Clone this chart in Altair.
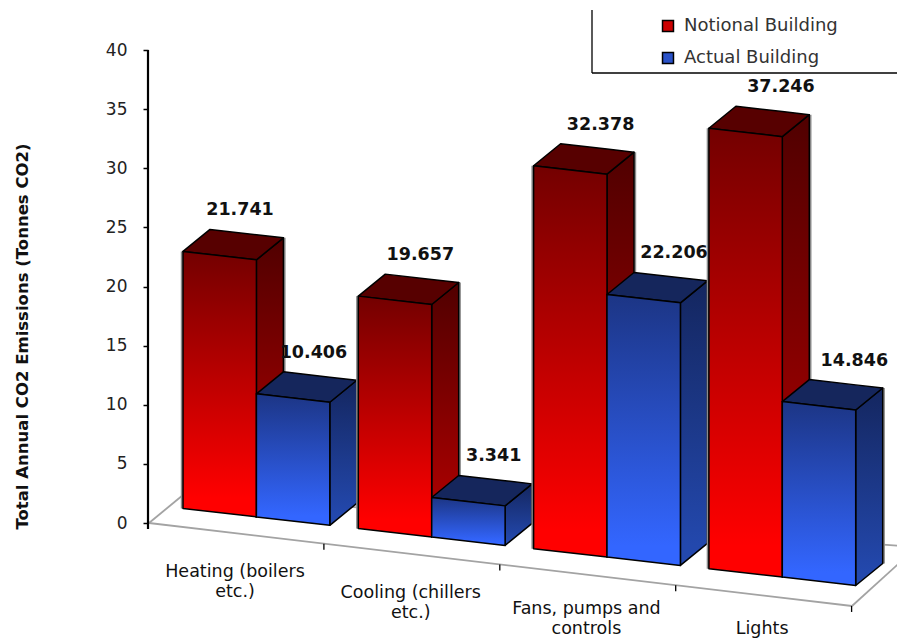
import altair as alt
import pandas as pd

CATEGORY_LABELS = ["Heating (boilers\netc.)", "Cooling (chillers\netc.)", "Fans, pumps and\ncontrols", "Lights"]
NOTIONAL = [21.741, 19.657, 32.378, 37.246]
ACTUAL = [10.406, 3.341, 22.206, 14.846]
SERIES = ["Notional Building", "Actual Building"]
Y_TICKS = [0, 5, 10, 15, 20, 25, 30, 35, 40]
Y_TITLE = "Total Annual CO2 Emissions (Tonnes CO2)"

FONT = "DejaVu Sans"
W, H = 889, 630
PX_PER_UNIT = 11.825
ZERO_PX = 523.0


def val(py):
    """Page pixel row expressed in value-axis units."""
    return (ZERO_PX - py) / PX_PER_UNIT


# oblique projection of the 3D bars
BAR_W = 73.4
STEP = 175.3
LEFT0 = 183.0
BASE0 = 508.5
SLOPE = 0.1145
DX, DY = 27.0, 22.0


def base(x):
    return BASE0 + SLOPE * (x - LEFT0)


def faces(left, value):
    r = left + BAR_W
    off = val(base(left))
    off_r = val(base(r))
    d = DY / PX_PER_UNIT
    s = SLOPE / PX_PER_UNIT * DX
    front = [dict(x=left, y=value + off, y2=off), dict(x=r, y=value + off_r, y2=off_r)]
    side = [dict(x=r, y=value + off_r, y2=off_r), dict(x=r + DX, y=value + off_r + d, y2=off_r + d)]
    top = [
        dict(x=left, y=value + off, y2=value + off),
        dict(x=left + DX, y=value + off + d, y2=value + off - s),
        dict(x=r, y=value + off_r + d + s, y2=value + off_r),
        dict(x=r + DX, y=value + off_r + d, y2=value + off_r + d),
    ]
    return front, side, top


X = alt.X("x:Q", axis=None, scale=alt.Scale(domain=[8, 8 + W], nice=False, zero=False))
Y = alt.Y(
    "y:Q",
    scale=alt.Scale(domain=[val(8 + H), val(8)], nice=False, zero=False),
    axis=alt.Axis(
        values=Y_TICKS, offset=-140, domain=False, grid=False, tickColor="black", tickSize=5, tickWidth=1.5,
        labelFont=FONT, labelFontSize=17, labelColor="#222", labelPadding=16, format="d",
        title=Y_TITLE, titleFont=FONT, titleFontSize=16.5, titleFontWeight="bold", titleColor="#111",
        titleX=-126, titleY=328, titleAngle=270, titleBaseline="middle", titleAlign="center",
    ),
)


def grad(a, b):
    return alt.Gradient(gradient="linear", x1=0, y1=0, x2=0, y2=1,
                        stops=[alt.GradientStop(offset=0, color=a), alt.GradientStop(offset=0.93, color=b),
                               alt.GradientStop(offset=1, color=b)])


STYLES = [
    dict(front=grad("#730000", "#ff0000"), side=grad("#500000", "#b00000"), top="#570000"),
    dict(front=grad("#1c3585", "#3366ff"), side=grad("#14265f", "#2348ad"), top="#15265c"),
]


def area(rows, fill):
    return alt.Chart(pd.DataFrame(rows)).mark_area(
        fill=fill, stroke="black", strokeWidth=1.5, strokeJoin="round", interpolate="linear"
    ).encode(x=X, y=Y, y2="y2:Q")


def seg(x1, py1, x2, py2, color="#a3a3a3", width=1.8):
    return alt.Chart(pd.DataFrame([dict(x=x1, y=val(py1)), dict(x=x2, y=val(py2))])).mark_line(
        color=color, strokeWidth=width, clip=True).encode(x=X, y=Y)


def vrule(x, py1, py2, width=1.3):
    return alt.Chart(pd.DataFrame([dict(x=x, y=val(py1), y2=val(py2))])).mark_rule(
        color="black", strokeWidth=width).encode(x=X, y=Y, y2="y2:Q")


def shadow(x, v_top, v_bottom):
    rows = [dict(x=x, y=v_top), dict(x=x, y=v_bottom)]
    return alt.Chart(pd.DataFrame(rows)).mark_line(color="#8c8c8c", strokeWidth=2, clip=True).encode(x=X, y=Y)


layers = []

# floor outline
FL = (149, 523)
FR = (852, 606)
BL = (183, 495)
BR = (917, 547)
layers += [seg(*FL, *FR), seg(*FL, *BL), seg(*FR, *BR), seg(*BL, *BR)]

# category ticks on the floor edge
for i in range(1, 5):
    tx = 148 + 175.9 * i
    ty = FL[1] + (FR[1] - FL[1]) / (FR[0] - FL[0]) * (tx - FL[0])
    layers.append(vrule(tx, ty, ty + 6))

# value axis line
layers.append(vrule(148, 50, 529, 2.2))

# bars, back to front
labels = []
for i, (a, b) in enumerate(zip(NOTIONAL, ACTUAL)):
    left = LEFT0 + STEP * i
    for j, v in enumerate((a, b)):
        l = left + j * BAR_W
        fr, si, to = faces(l, v)
        st = STYLES[j]
        if j == 0:
            layers.append(shadow(l - 1.2, fr[0]["y"], fr[0]["y2"]))
        layers.append(shadow(l + BAR_W + DX + 1.2, si[1]["y"], si[1]["y2"]))
        layers += [area(si, st["side"]), area(to, st["top"]), area(fr, st["front"])]
        labels.append(dict(x=l + 57 + 5 * i, y=v + val(base(l)) + 41 / PX_PER_UNIT, t=f"{v:.3f}"))

# value labels
layers.append(alt.Chart(pd.DataFrame(labels)).mark_text(
    font=FONT, fontSize=17.5, fontWeight="bold", color="#111", baseline="middle", align="center"
).encode(x=X, y=Y, text="t:N"))

# category labels (y is the first line of each label)
cat_rows = [dict(x=235 + 175.7 * i, y=val(min(572 + 21 * i, 629) + (-5 if i == 2 else 0)), t=t)
            for i, t in enumerate(CATEGORY_LABELS)]
layers.append(alt.Chart(pd.DataFrame(cat_rows)).mark_text(
    font=FONT, fontSize=17.5, color="#111", baseline="middle", align="center", lineBreak="\n", lineHeight=20
).encode(x=X, y=Y, text="t:N"))

# legend frame
layers.append(vrule(592, 10, 73, 1.3))
layers.append(seg(592, 73, 8 + W, 73, "black", 1.3))

# legend
layers.append(alt.Chart(pd.DataFrame({"x": [300, 300], "y": [0, 0], "s": SERIES})).mark_square(size=0).encode(
    x=X, y=Y,
    color=alt.Color("s:N", scale=alt.Scale(domain=SERIES, range=["#cc0000", "#2a52c8"]), legend=alt.Legend(
        orient="none", legendX=651, legendY=9, title=None, symbolType="square", symbolSize=120,
        symbolStrokeColor="black", symbolStrokeWidth=1.5, labelFont=FONT, labelFontSize=18,
        labelColor="#333", rowPadding=14, labelOffset=7, symbolOpacity=1,
    )),
))

chart = alt.layer(*layers).properties(
    width=W, height=H, padding=0, background="white",
    autosize=alt.AutoSizeParams(type="none"),
).configure_view(stroke=None)

chart.save("out.html", embed_options={"renderer": "svg", "actions": False})
